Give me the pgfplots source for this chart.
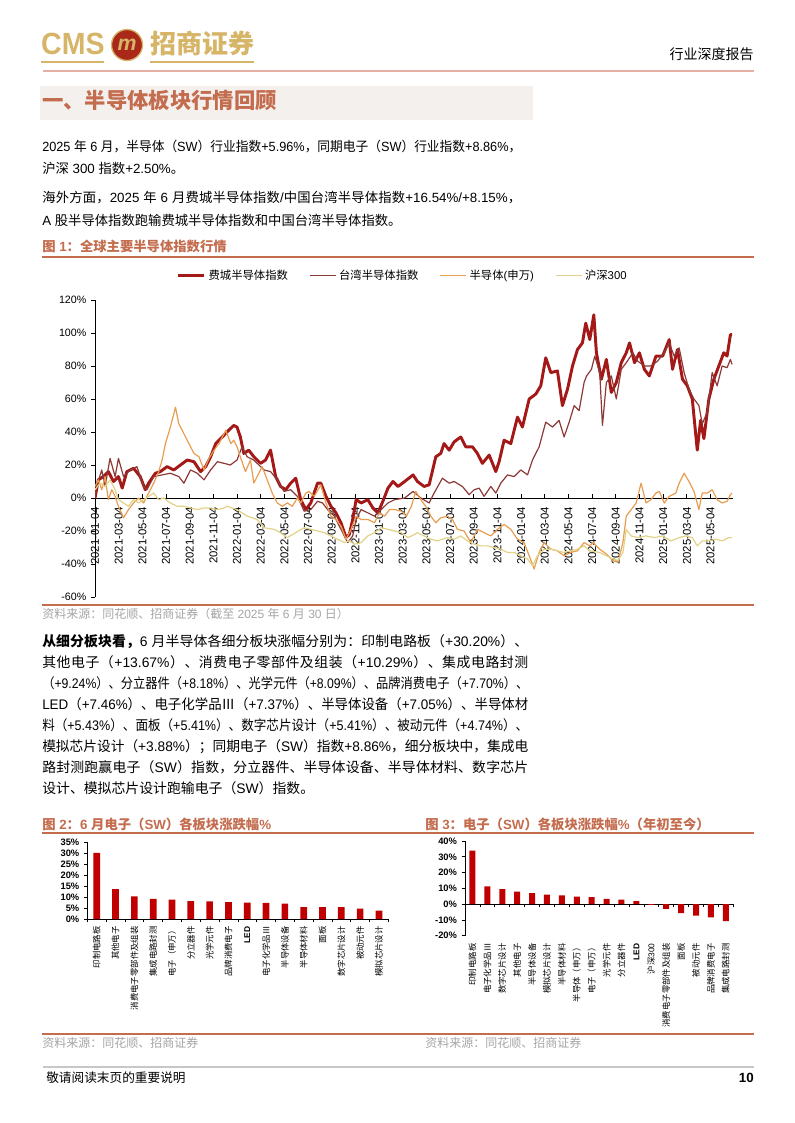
\documentclass[border=0pt]{standalone}
\usepackage{fontspec}
\setmainfont{Liberation Sans}
\newfontfamily\cjk{Noto Sans CJK SC}
\usepackage{graphicx}
\usepackage{pgfplots}
\pgfplotsset{compat=1.18}
% automatic CJK font switching
\newXeTeXintercharclass\cjkcls
\newcount\cc
\cc="2E80 \loop \XeTeXcharclass\cc=\cjkcls \advance\cc by 1 \ifnum\cc<"A000 \repeat
\cc="FF00 \loop \XeTeXcharclass\cc=\cjkcls \advance\cc by 1 \ifnum\cc<"FFF0 \repeat
\XeTeXcharclass"2162=\cjkcls
\XeTeXinterchartoks 0 \cjkcls = {\hskip 0pt plus 1pt\relax\cjk}
\XeTeXinterchartoks 4095 \cjkcls = {\cjk}
\XeTeXinterchartoks \cjkcls 0 = {\hskip 0pt plus 1pt\relax\rmfamily}
\XeTeXinterchartoks \cjkcls 4095 = {\rmfamily}
\XeTeXinterchartoks \cjkcls \cjkcls = {\hskip 0pt plus 1pt\relax}
\XeTeXinterchartokenstate=1
\newsavebox\jbox
\newcommand\jl[2]{\sbox\jbox{#2}\ifdim\wd\jbox>#1\relax\resizebox{#1}{\height}{\usebox\jbox}\else\hbox to #1{#2}\fi}
\definecolor{cmsred}{RGB}{196,108,78}
\definecolor{hdrline}{RGB}{228,176,165}
\definecolor{gold}{RGB}{214,181,104}
\definecolor{boxbg}{RGB}{244,240,238}
\definecolor{srcgrey}{RGB}{165,165,165}
\definecolor{soxc}{RGB}{165,24,24}
\definecolor{twc}{RGB}{140,58,55}
\definecolor{swc}{RGB}{232,158,82}
\definecolor{csic}{RGB}{226,210,135}
\definecolor{barred}{RGB}{192,0,0}
\definecolor{logored}{RGB}{170,40,25}
\begin{document}
\begin{tikzpicture}
\path[use as bounding box] (0,0) rectangle (595.5pt,-842.25pt);
\fill[white] (0,0) rectangle (595.5pt,-842.25pt);
\begin{scope}[x=0.75pt,y=-0.75pt]
% header
\node[anchor=base west, inner sep=0, text=gold, xscale=0.93] at (41,55) {\fontsize{23}{23}\selectfont\bfseries CMS};
\fill[logored] (127,45) circle (15.5);
\draw[gold, line width=1pt] (127,45) circle (15.5);
\node[text=gold, inner sep=0] at (127,45) {\fontsize{16}{16}\selectfont\bfseries\itshape m};
\node[anchor=base west, inner sep=0, text=gold] at (150,54) {\fontsize{19.5}{20}\selectfont\bfseries 招商证券};
\draw[gold, line width=1.5pt] (41,62) -- (104,62);
\draw[gold, line width=1.5pt] (150,62) -- (254,62);
\node[anchor=base east, inner sep=0] at (754,60) {\fontsize{10.5}{11}\selectfont 行业深度报告};
\draw[hdrline, line width=1.5pt] (43,71) -- (754,71);
% section heading
\fill[boxbg] (40,86) rectangle (533,120);
\node[anchor=base west, inner sep=0, text=cmsred] at (42,109) {\fontsize{16}{16}\selectfont\bfseries 一、半导体板块行情回顾};
% paragraph 1
\begin{scope}[every node/.style={anchor=base west, inner sep=0, font=\fontsize{10}{11}\selectfont}]
\node at (42,152) {\jl{359.25pt}{2025 年 6 月，半导体（SW）行业指数+5.96\%，同期电子（SW）行业指数+8.86\%，}};
\node at (42,174) {沪深 300 指数+2.50\%。};
\node at (42,203) {\jl{359.25pt}{海外方面，2025 年 6 月费城半导体指数/中国台湾半导体指数+16.54\%/+8.15\%，}};
\node at (42,225) {A 股半导体指数跑输费城半导体指数和中国台湾半导体指数。};
\end{scope}
% paragraph 2
\begin{scope}[every node/.style={anchor=base west, inner sep=0, font=\fontsize{10.4}{11}\selectfont}]
\node at (42,646) {\jl{364.5pt}{{\bfseries 从细分板块看，}6 月半导体各细分板块涨幅分别为：印制电路板（+30.20\%）、}};
\node at (42,667) {\jl{364.5pt}{其他电子（+13.67\%）、消费电子零部件及组装（+10.29\%）、集成电路封测}};
\node at (42,688) {\jl{364.5pt}{（+9.24\%）、分立器件（+8.18\%）、光学元件（+8.09\%）、品牌消费电子（+7.70\%）、}};
\node at (42,709) {\jl{364.5pt}{LED（+7.46\%）、电子化学品Ⅲ（+7.37\%）、半导体设备（+7.05\%）、半导体材}};
\node at (42,730) {\jl{364.5pt}{料（+5.43\%）、面板（+5.41\%）、数字芯片设计（+5.41\%）、被动元件（+4.74\%）、}};
\node at (42,751) {\jl{364.5pt}{模拟芯片设计（+3.88\%）；同期电子（SW）指数+8.86\%，细分板块中，集成电}};
\node at (42,772) {\jl{364.5pt}{路封测跑赢电子（SW）指数，分立器件、半导体设备、半导体材料、数字芯片}};
\node at (42,793) {设计、模拟芯片设计跑输电子（SW）指数。};
\end{scope}
% chart titles, rules, sources
\node[anchor=base west, inner sep=0, text=cmsred] at (42,251.5) {\fontsize{10}{11}\selectfont\bfseries 图 1：全球主要半导体指数行情};
\draw[cmsred, line width=1.5pt] (42,257) -- (754,257);
\draw[cmsred, line width=1.5pt] (42,605) -- (754,605);
\node[anchor=base west, inner sep=0, text=srcgrey] at (42,618.5) {\fontsize{9}{10}\selectfont 资料来源：同花顺、招商证券（截至 2025 年 6 月 30 日）};
\node[anchor=base west, inner sep=0, text=cmsred] at (42,829.5) {\fontsize{10}{11}\selectfont\bfseries 图 2：6 月电子（SW）各板块涨跌幅\%};
\node[anchor=base west, inner sep=0, text=cmsred] at (425,829.5) {\fontsize{10}{11}\selectfont\bfseries 图 3：电子（SW）各板块涨跌幅\%（年初至今）};
\draw[cmsred, line width=1.5pt] (42,833) -- (754,833);
\draw[cmsred, line width=1.5pt] (42,1034) -- (754,1034);
\node[anchor=base west, inner sep=0, text=srcgrey] at (42,1047.5) {\fontsize{9}{10}\selectfont 资料来源：同花顺、招商证券};
\node[anchor=base west, inner sep=0, text=srcgrey] at (425,1047.5) {\fontsize{9}{10}\selectfont 资料来源：同花顺、招商证券};
% footer
\draw[black!22, line width=1.5pt] (43,1066.5) -- (754,1066.5);
\node[anchor=base west, inner sep=0] at (46,1082.5) {\fontsize{9.5}{10}\selectfont 敬请阅读末页的重要说明};
\node[anchor=base east, inner sep=0] at (754,1082.5) {\fontsize{10}{10}\selectfont\bfseries 10};
\end{scope}

% ---------------- Chart 1 ----------------
\begin{axis}[
 at={(71.25pt,-447.75pt)}, anchor=south west,
 scale only axis, width=478.5pt, height=222.75pt,
 xmin=0, xmax=53.9, ymin=-60, ymax=120,
 axis y line=left, axis x line=middle,
 axis line style={-, black, line width=0.6pt},
 tick style={black, line width=0.6pt},
 tick align=outside, major tick length=3pt,
 xtick style={yshift=3pt},
 hide obscured x ticks=false, hide obscured y ticks=false,
 ytick={-60,-40,-20,0,20,40,60,80,100,120},
 yticklabel={\pgfmathprintnumber[assume math mode=true]{\tick}\%},
 yticklabel style={font=\fontsize{8}{9}\selectfont},
 xtick={0,2,...,52},
 xticklabels={2021-01-04,2021-03-04,2021-05-04,2021-07-04,2021-09-04,2021-11-04,2022-01-04,2022-03-04,2022-05-04,2022-07-04,2022-09-04,2022-11-04,2023-01-04,2023-03-04,2023-05-04,2023-07-04,2023-09-04,2023-11-04,2024-01-04,2024-03-04,2024-05-04,2024-07-04,2024-09-04,2024-11-04,2025-01-04,2025-03-04,2025-05-04},
 xticklabel style={rotate=90, anchor=east, font=\fontsize{8.5}{9}\selectfont},
 no markers,
 legend columns=4,
 legend style={at={(0.483,1.082)}, anchor=center, draw=none, fill=none, font=\fontsize{8.5}{10}\selectfont, /tikz/every even column/.append style={column sep=14pt}},
 legend image code/.code={\draw[#1] (0pt,0pt) -- (19.5pt,0pt);},
]
\addplot[color=soxc, line width=2.2pt, line join=round] coordinates {
(0,0) (0.28,11) (0.71,13) (1.13,16) (1.56,10) (1.98,13) (2.3,6) (2.69,16) (3.26,18) (3.82,13) (4.25,5) (4.53,9) (5.1,15) (5.52,16) (6.09,19) (6.66,17) (7.22,20) (7.79,23) (8.36,22) (8.92,16) (9.35,19) (9.77,25) (10.2,33) (10.76,37) (11.15,40) (11.72,44) (12,43) (12.28,37) (12.57,27) (12.99,29) (13.42,25) (13.98,21) (14.41,23) (14.83,29) (15.26,13) (15.68,7) (16.11,5) (16.53,9) (16.96,12) (17.38,-1) (17.81,-7) (18.23,-3) (18.8,9) (19.08,9) (19.51,1) (19.93,-5) (20.36,-9) (20.78,-15) (21.21,-24) (21.49,-22) (21.77,-13) (22.06,-1) (22.48,-3) (23.05,-1) (23.47,-6) (23.9,-9) (24.32,-2) (24.75,6) (25.17,10) (25.6,7) (26.16,10) (26.87,14) (27.24,10) (27.8,7) (28.23,8) (28.79,25) (29.21,27) (29.49,33) (29.92,29) (30.34,34) (30.9,37) (31.32,31) (31.89,31) (32.31,27) (32.73,21) (33.3,26) (33.86,16) (34.14,22) (34.56,35) (35.13,33) (35.69,49) (36.11,43) (36.68,60) (37.24,63) (37.66,68) (38.08,85) (38.51,76) (39.07,77) (39.49,56) (39.92,66) (40.34,80) (40.76,90) (41.18,94) (41.46,106) (41.8,96) (42.14,111) (42.36,88) (42.78,72) (43.2,84) (43.62,64) (44.04,70) (44.46,82) (44.88,88) (45.16,94) (45.58,82) (45.99,88) (46.41,78) (46.83,74) (47.39,86) (47.95,86) (48.51,96) (48.79,78) (49.21,90) (49.63,72) (50.04,68) (50.46,60) (50.88,29) (51.16,47) (51.44,36) (51.86,60) (52.28,72) (52.7,80) (53.12,88) (53.4,86) (53.68,99) (53.82,99)
};
\addlegendentry{费城半导体指数}
\addplot[color=twc, line width=0.9pt, line join=round] coordinates {
(0,0) (0.14,7) (0.57,17) (0.85,7) (1.27,24) (1.7,13) (1.98,24) (2.41,13) (2.97,17) (3.54,19) (4.11,7) (4.39,5) (4.96,13) (5.67,14) (6.37,15) (7.08,13) (7.51,9) (8.07,17) (8.64,15) (9.21,11) (9.77,17) (10.34,22) (10.91,21) (11.43,20) (12,23) (12.42,31) (12.85,25) (13.42,23) (14.27,17) (14.83,16) (15.4,11) (15.97,4) (16.53,5) (17.1,1) (17.67,-8) (18.23,-7) (18.8,-2) (19.22,-3) (19.65,-7) (20.22,-11) (20.78,-19) (21.35,-27) (21.77,-23) (22.06,-13) (22.48,-7) (23.05,-9) (23.61,-11) (24.18,-7) (24.75,-3) (25.31,-1) (26.16,0) (26.87,4) (27.52,0) (28.23,-3) (28.65,3) (29.35,12) (29.92,9) (30.34,10) (31.04,7) (31.61,2) (32.03,5) (32.45,6) (32.87,1) (33.44,7) (33.86,3) (34.28,9) (34.85,14) (35.41,13) (35.97,17) (36.54,14) (36.96,23) (37.52,31) (38.08,46) (38.65,43) (39.21,47) (39.63,37) (40.06,46) (40.48,56) (40.9,53) (41.32,70) (41.53,74) (41.94,78) (42.22,86) (42.64,76) (42.87,44) (43.2,70) (43.62,74) (44.04,60) (44.46,78) (44.88,82) (45.44,88) (45.85,83) (46.41,80) (46.97,80) (47.53,83) (48.09,88) (48.51,94) (48.93,86) (49.35,91) (49.77,76) (50.18,66) (50.6,60) (51.02,56) (51.3,45) (51.72,52) (52.14,76) (52.56,68) (52.98,80) (53.4,79) (53.68,84) (53.82,81)
};
\addlegendentry{台湾半导体指数}
\addplot[color=swc, line width=0.9pt, line join=round] coordinates {
(0,7) (0.28,11) (0.57,5) (0.85,13) (1.13,-1) (1.42,5) (1.7,1) (1.98,-5) (2.41,-12) (2.83,-7) (3.26,-3) (3.68,0) (4.11,-3) (4.53,3) (4.96,9) (5.38,16) (5.67,23) (5.95,33) (6.37,43) (6.8,55) (7.08,45) (7.51,39) (7.93,33) (8.36,27) (8.78,25) (9.21,17) (9.63,24) (10.06,29) (10.48,33) (11.05,41) (11.47,33) (11.72,35) (12,31) (12.28,25) (12.71,16) (13.13,23) (13.42,9) (13.7,13) (14.12,19) (14.55,11) (14.97,3) (15.4,-3) (15.82,-5) (16.25,-3) (16.67,-5) (17.1,0) (17.38,-3) (17.81,3) (18.09,4) (18.52,1) (19.08,8) (19.51,-3) (19.93,-11) (20.36,-13) (20.78,-17) (21.21,-25) (21.63,-19) (22.06,-11) (22.48,-13) (23.05,-13) (23.61,-15) (24.04,-9) (24.46,-11) (24.89,-7) (25.31,-7) (25.88,-8) (26.31,-11) (26.73,-5) (27.1,4) (27.52,-1) (27.94,-5) (28.37,-11) (28.79,-15) (29.21,-12) (29.77,-11) (30.2,-13) (30.62,-19) (31.18,-20) (31.75,-27) (32.31,-19) (32.87,-21) (33.44,-23) (34,-19) (34.56,-16) (35.13,-19) (35.69,-25) (36.25,-27) (36.68,-35) (37.1,-43) (37.52,-33) (37.94,-27) (38.51,-31) (39.07,-32) (39.63,-35) (40.2,-33) (40.76,-32) (41.32,-27) (41.8,-29) (42.08,-27) (42.64,-31) (43.2,-34) (43.76,-38) (44.18,-39) (44.6,-27) (44.88,-11) (45.3,-7) (45.72,-3) (46.13,9) (46.55,-3) (46.97,-1) (47.39,3) (47.67,4) (48.09,-3) (48.51,1) (49.07,3) (49.35,9) (49.77,15) (50.18,10) (50.6,4) (51.02,-7) (51.3,3) (51.72,3) (52.14,5) (52.56,-1) (52.98,-3) (53.4,-2) (53.68,2) (53.82,3)
};
\addlegendentry{半导体(申万)}
\addplot[color=csic, line width=0.9pt, line join=round] coordinates {
(0,5) (0.42,9) (0.85,7) (1.27,11) (1.7,5) (1.98,-1) (2.41,-3) (2.83,-5) (3.26,-1) (3.68,-3) (4.11,-1) (4.53,1) (4.96,3) (5.38,-1) (5.81,0) (6.37,-3) (6.94,-5) (7.51,-5) (8.07,-6) (8.64,-7) (9.21,-6) (9.77,-6) (10.34,-7) (10.91,-6) (11.15,-5) (12,-7) (12.85,-11) (13.7,-13) (14.27,-18) (15.12,-19) (15.68,-21) (16.25,-24) (16.96,-21) (17.67,-18) (18.23,-19) (18.8,-20) (19.37,-21) (19.93,-23) (20.5,-25) (21.07,-27) (21.49,-26) (21.92,-28) (22.48,-27) (23.05,-23) (23.61,-21) (24.18,-18) (24.75,-19) (25.31,-20) (25.88,-21) (26.45,-24) (27.01,-22) (27.24,-21) (27.8,-23) (28.37,-25) (28.93,-26) (29.77,-24) (30.34,-25) (30.9,-23) (31.46,-26) (32.03,-28) (32.59,-29) (33.15,-29) (33.72,-30) (34.28,-31) (34.85,-33) (35.41,-33) (35.97,-35) (36.54,-37) (36.96,-41) (37.38,-35) (37.94,-31) (38.51,-31) (39.07,-32) (39.63,-33) (40.2,-32) (40.76,-31) (41.32,-29) (41.8,-32) (42.64,-33) (43.48,-36) (44.18,-38) (44.6,-33) (44.88,-19) (45.3,-23) (45.85,-24) (46.55,-23) (47.25,-24) (47.95,-23) (48.65,-26) (49.35,-24) (49.91,-23) (50.46,-24) (50.88,-29) (51.3,-26) (51.86,-26) (52.42,-25) (52.98,-26) (53.54,-24) (53.82,-24)
};
\addlegendentry{沪深300}
\end{axis}

% ---------------- Chart 2 ----------------
\begin{axis}[
 at={(65.5pt,-689.25pt)}, anchor=south west,
 scale only axis, width=225.75pt, height=57.5pt,
 xmin=-0.5, xmax=15.5, ymin=0, ymax=35,
 axis x line=bottom, axis y line=left,
 axis line style={-, black, line width=0.5pt},
 tick style={black, line width=0.5pt},
 tick align=outside, major tick length=2.5pt,
 ytick={0,5,...,35},
 yticklabel={\pgfmathprintnumber[assume math mode=true]{\tick}\%},
 yticklabel style={font=\bfseries\fontsize{7}{8}\selectfont},
 xtick={-0.5,0.5,...,15.5}, xticklabel={\relax},
 extra x ticks={0,1,...,15},
 extra x tick labels={印制电路板,其他电子,消费电子零部件及组装,集成电路封测,电子（申万）,分立器件,光学元件,品牌消费电子,\bfseries LED,电子化学品Ⅲ,半导体设备,半导体材料,面板,数字芯片设计,被动元件,模拟芯片设计},
 extra x tick style={major tick length=0pt, xticklabel style={rotate=90, anchor=east, xshift=-2pt, font=\fontsize{6.3}{7}\selectfont}},
]
\addplot[ybar, bar width=5pt, fill=barred, draw=none] coordinates {
(0,30.20) (1,13.67) (2,10.29) (3,9.24) (4,8.86) (5,8.18) (6,8.09) (7,7.70) (8,7.46) (9,7.37) (10,7.05) (11,5.43) (12,5.41) (13,5.41) (14,4.74) (15,3.88)
};
\end{axis}

% ---------------- Chart 3 ----------------
\begin{axis}[
 at={(348.75pt,-701.78pt)}, anchor=south west,
 scale only axis, width=201.2pt, height=71pt,
 xmin=-0.5, xmax=17.5, ymin=-20, ymax=40,
 axis x line=middle, axis y line=left,
 axis line style={-, black, line width=0.5pt},
 tick style={black, line width=0.5pt},
 tick align=outside, major tick length=2.5pt,
 hide obscured x ticks=false, hide obscured y ticks=false,
 ytick={-20,-10,...,40},
 yticklabel={\pgfmathprintnumber[assume math mode=true]{\tick}\%},
 yticklabel style={font=\bfseries\fontsize{7}{8}\selectfont},
 xtick={-0.5,0.5,...,17.5}, xticklabel={\relax},
 extra x ticks={0,1,...,17},
 extra x tick labels={印制电路板,电子化学品Ⅲ,数字芯片设计,其他电子,半导体设备,模拟芯片设计,半导体材料,半导体（申万）,电子（申万）,光学元件,分立器件,\bfseries LED,沪深300,消费电子零部件及组装,面板,被动元件,品牌消费电子,集成电路封测},
 extra x tick style={major tick length=0pt, xticklabel style={rotate=90, anchor=east, xshift=-26pt, font=\fontsize{6.3}{7}\selectfont}},
]
\addplot[ybar, bar width=4.5pt, fill=barred, draw=none] coordinates {
(0,33.9) (1,11.2) (2,9.5) (3,8.0) (4,7.0) (5,6.1) (6,5.5) (7,4.7) (8,4.4) (9,3.4) (10,2.8) (11,1.9) (12,-0.4) (13,-3.0) (14,-5.7) (15,-7.2) (16,-8.3) (17,-10.8)
};
\end{axis}
\end{tikzpicture}
\end{document}
